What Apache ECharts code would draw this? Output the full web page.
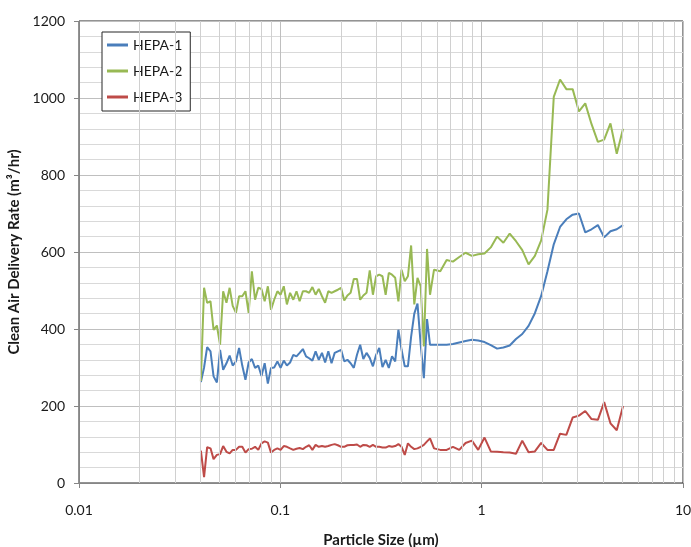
<!DOCTYPE html>
<html>
<head>
<meta charset="utf-8">
<script src="https://cdn.jsdelivr.net/npm/echarts@6/dist/echarts.min.js"></script>
<style>
  html, body { margin: 0; padding: 0; background: #fff; }
  #chart { width: 691px; height: 547px; }
</style>
</head>
<body>
<div id="chart"></div>
<script>
// particle sizes (um) - fine channels and coarse channels
const smpsSize = [0.0403, 0.0418, 0.0433, 0.0450, 0.0466, 0.0484, 0.0502, 0.0520, 0.0540, 0.0560,
  0.0580, 0.0602, 0.0624, 0.0647, 0.0671, 0.0696, 0.0722, 0.0749, 0.0777, 0.0806,
  0.0836, 0.0867, 0.0899, 0.0932, 0.0967, 0.1003, 0.1040, 0.1078, 0.1118, 0.1160,
  0.1203, 0.1247, 0.1294, 0.1342, 0.1391, 0.1443, 0.1497, 0.1552, 0.1610, 0.1669,
  0.1731, 0.1796, 0.1862, 0.1931, 0.2003, 0.2077, 0.2154, 0.2234, 0.2317, 0.2403,
  0.2492, 0.2584, 0.2680, 0.2780, 0.2883, 0.2990, 0.3100, 0.3215, 0.3335, 0.3458,
  0.3587, 0.3720, 0.3858, 0.4001, 0.4149, 0.4303, 0.4463, 0.4628, 0.4800, 0.4978,
  0.5163, 0.5354]
const apsSize = [0.554, 0.580, 0.623, 0.670, 0.720, 0.774, 0.832, 0.894, 0.961, 1.033, 1.110,
  1.193, 1.282, 1.378, 1.481, 1.591, 1.710, 1.838, 1.975, 2.122, 2.281,
  2.451, 2.634, 2.831, 3.042, 3.270, 3.514, 3.777, 4.059, 4.362, 4.688, 5.038]

// CADR values (m3/hr)
const hepa1Fine = [262, 300, 353, 342, 277, 261, 346, 294, 311, 331, 305, 316, 351, 305, 268, 313, 322, 299, 305, 278,
  311, 258, 299, 300, 316, 299, 318, 305, 313, 333, 329, 338, 348, 329, 324, 318, 342, 320, 338, 313,
  342, 311, 338, 342, 346, 316, 320, 311, 299, 333, 359, 322, 338, 325, 303, 333, 351, 301, 320, 299,
  329, 316, 398, 346, 303, 303, 380, 440, 466, 360, 272, 426]
const hepa1Coarse = [359, 359, 359, 359, 361, 365, 369, 372, 370, 366, 358, 349, 352, 357, 374, 387, 408, 441, 486, 550, 620,
  665, 685, 697, 700, 651, 659, 670, 638, 654, 659, 670]

const hepa2Fine = [265, 507, 468, 472, 398, 409, 359, 498, 468, 507, 460, 442, 485, 485, 498, 442, 550, 476, 507, 504,
  472, 511, 450, 476, 498, 489, 511, 464, 494, 476, 498, 472, 498, 498, 494, 509, 489, 504, 485, 468,
  498, 494, 498, 502, 507, 474, 487, 494, 530, 530, 476, 487, 494, 552, 489, 537, 541, 537, 489, 546,
  541, 533, 472, 554, 524, 537, 617, 464, 533, 511, 355, 608]
const hepa2Coarse = [489, 554, 550, 579, 575, 587, 598, 590, 594, 596, 612, 640, 624, 648, 628, 605, 568, 590, 630, 710, 1003,
  1048, 1023, 1023, 965, 986, 932, 886, 892, 934, 855, 920]

const hepa3Fine = [84, 15, 93, 90, 62, 73, 75, 96, 81, 77, 86, 86, 94, 94, 79, 88, 89, 94, 86, 103,
  108, 105, 79, 86, 90, 86, 96, 94, 90, 86, 89, 91, 88, 94, 98, 86, 99, 94, 96, 94,
  96, 99, 101, 98, 94, 94, 98, 99, 99, 100, 94, 99, 98, 94, 99, 94, 94, 92, 92, 96,
  94, 96, 101, 94, 73, 103, 94, 88, 90, 94, 99, 108]
const hepa3Coarse = [116, 90, 86, 86, 94, 86, 104, 110, 86, 118, 82, 81, 80, 79, 76, 110, 80, 82, 104, 86, 86,
  128, 125, 170, 175, 187, 166, 164, 210, 155, 137, 200]

const seriesNames = ['HEPA-1', 'HEPA-2', 'HEPA-3']
const seriesColors = ['#4a7ebb', '#98b954', '#be4b48']
const yTicks = [0, 200, 400, 600, 800, 1000, 1200]
// intermediate log gridlines (2..9 of each decade)
const minorSizes = [0.02, 0.03, 0.04, 0.05, 0.06, 0.07, 0.08, 0.09,
  0.2, 0.3, 0.4, 0.5, 0.6, 0.7, 0.8, 0.9,
  2, 3, 4, 5, 6, 7, 8, 9]

const pairs = (xs, ys) => xs.map((x, i) => [x, ys[i]])

const font = 'Lato, "Open Sans", sans-serif'
const chart = echarts.init(document.getElementById('chart'), null, { renderer: 'canvas' })

const lineSeries = (name, color, fine, coarse) => ({
  name: name,
  type: 'line',
  z: 3,
  symbol: 'none',
  showSymbol: false,
  lineStyle: { color: color, width: 2 },
  itemStyle: { color: color },
  data: pairs(smpsSize, fine).concat(pairs(apsSize, coarse))
})

const option = {
  animation: false,
  backgroundColor: '#fff',
  textStyle: { fontFamily: font },
  grid: {
    left: 79, right: 8, top: 21, bottom: 64,
    outerBoundsMode: 'none',
    containLabel: false,
    show: true, borderColor: '#262626', borderWidth: 1
  },
  legend: {
    data: seriesNames,
    orient: 'vertical',
    left: 102, top: 32,
    width: 74,
    padding: [5, 8, 6, 5],
    itemGap: 10,
    itemWidth: 21, itemHeight: 3,
    icon: 'rect',
    backgroundColor: '#fff',
    borderColor: '#262626',
    borderWidth: 1,
    borderRadius: 0,
    textStyle: { fontSize: 14, lineHeight: 16, color: '#1a1a1a', fontFamily: font, width: 40 }
  },
  xAxis: {
    type: 'log',
    logBase: 10,
    min: 0.01,
    max: 10,
    name: 'Particle Size (\u00b5m)',
    nameLocation: 'middle',
    nameGap: 50,
    nameTextStyle: { fontSize: 15, fontWeight: 'bold', color: '#1a1a1a', fontFamily: font },
    axisLine: { show: true, onZero: false, lineStyle: { color: '#868686', width: 1 } },
    axisTick: { show: true, inside: false, length: 5, lineStyle: { color: '#868686' } },
    axisLabel: {
      margin: 20, fontSize: 14, color: '#1a1a1a', fontFamily: font,
      formatter: v => String(Number(v.toPrecision(3)))
    },
    splitLine: { show: true, lineStyle: { color: '#bfbfbf', width: 1 } }
  },
  yAxis: {
    type: 'value',
    min: yTicks[0],
    max: yTicks[yTicks.length - 1],
    interval: 200,
    name: 'Clean Air Delivery Rate (m\u00b3/hr)',
    nameLocation: 'middle',
    nameGap: 49,
    nameTextStyle: { fontSize: 15, fontWeight: 'bold', color: '#1a1a1a', fontFamily: font },
    axisLine: { show: true, lineStyle: { color: '#868686', width: 1 } },
    axisTick: { show: true, inside: false, length: 5, lineStyle: { color: '#868686' } },
    axisLabel: { margin: 14, fontSize: 14, color: '#1a1a1a', fontFamily: font, formatter: v => String(v) },
    splitLine: { show: true, lineStyle: { color: '#bfbfbf', width: 1 } },
    minorTick: { show: false, splitNumber: 5 },
    minorSplitLine: { show: true, lineStyle: { color: '#d9d9d9', width: 1 } }
  },
  series: [
    {
      name: 'minor-grid',
      type: 'line',
      z: 1,
      data: [],
      silent: true,
      markLine: {
        silent: true,
        symbol: 'none',
        animation: false,
        label: { show: false },
        lineStyle: { color: '#d0d0d0', width: 1, type: 'solid' },
        data: minorSizes.map(v => ({ xAxis: v }))
      }
    },
    lineSeries(seriesNames[0], seriesColors[0], hepa1Fine, hepa1Coarse),
    lineSeries(seriesNames[1], seriesColors[1], hepa2Fine, hepa2Coarse),
    lineSeries(seriesNames[2], seriesColors[2], hepa3Fine, hepa3Coarse)
  ]
}

chart.setOption(option)
</script>
</body>
</html>
